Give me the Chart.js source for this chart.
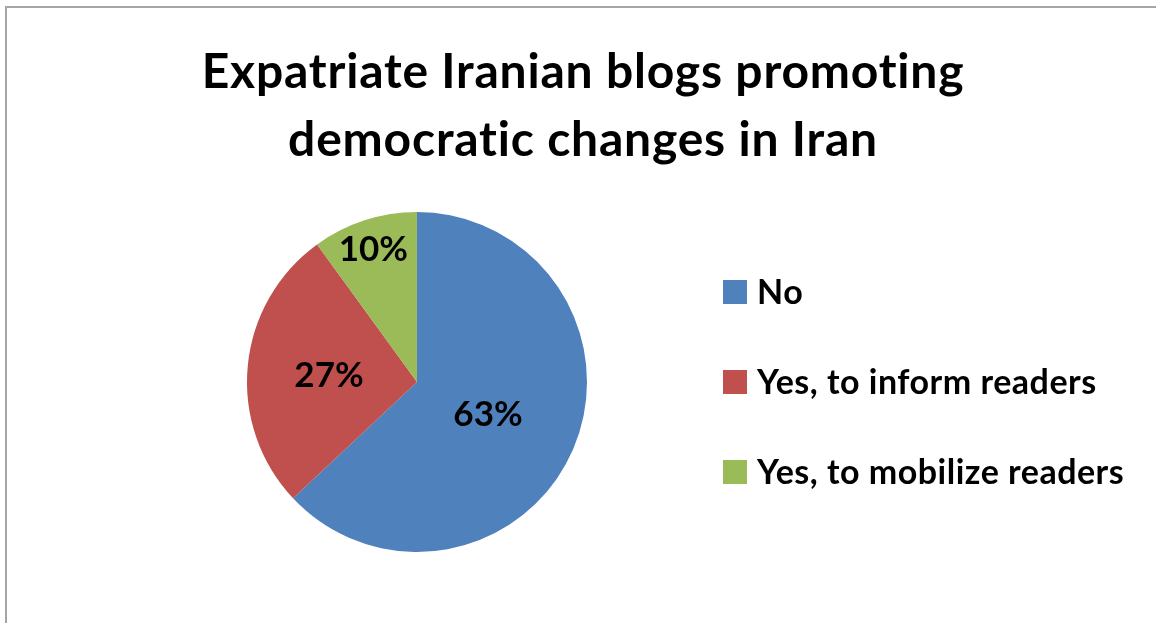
<!DOCTYPE html>
<html>
<head>
<meta charset="utf-8">
<script src="https://cdn.jsdelivr.net/npm/chart.js@4.4.0/dist/chart.umd.min.js"></script>
<style>
  body { margin: 0; background: #fff; }
  #wrap { width: 1156px; height: 623px; position: relative; }
</style>
</head>
<body>
<div id="wrap"><canvas id="myChart" width="1156" height="623"></canvas></div>
<script>
'use strict';
/*---------------- chart data ----------------*/
const titleLines = ['Expatriate Iranian blogs promoting', 'democratic changes in Iran'];
const categories = ['No', 'Yes, to inform readers', 'Yes, to mobilize readers'];
const shares = [63, 27, 10];
const sliceColors = ['#4F81BD', '#C0504D', '#9BBB59'];
/*--------------------------------------------*/
const fontFamily = 'Lato, "Open Sans", sans-serif';

// gray frame round the chart, like the office chart border
const framePlugin = {
  id: 'frame',
  beforeDraw(chart) {
    const ctx = chart.ctx;
    ctx.save();
    ctx.fillStyle = '#fff';
    ctx.fillRect(0, 0, chart.width, chart.height);
    ctx.strokeStyle = '#A5A5A5';
    ctx.lineWidth = 2;
    ctx.strokeRect(6, 7, chart.width + 20, chart.height + 20);
    ctx.restore();
  }
};

// two line title centred over the whole box
const titlePlugin = {
  id: 'bigTitle',
  afterDraw(chart, args, opts) {
    const ctx = chart.ctx;
    ctx.save();
    ctx.font = `bold ${opts.size}px ${fontFamily}`;
    ctx.letterSpacing = opts.spacing; // also stops the "ti" ligature
    ctx.fillStyle = '#000';
    ctx.textAlign = 'center';
    ctx.textBaseline = 'alphabetic';
    titleLines.forEach((line, i) => {
      ctx.fillText(line, opts.x, opts.y + i * opts.gap);
    });
    ctx.restore();
  }
};

// percent labels inside the slices
const sliceLabelPlugin = {
  id: 'sliceLabels',
  afterDatasetsDraw(chart, args, opts) {
    const ctx = chart.ctx;
    const meta = chart.getDatasetMeta(0);
    const total = shares.reduce((a, b) => a + b, 0);
    ctx.save();
    ctx.font = `bold ${opts.size}px ${fontFamily}`;
    ctx.fillStyle = '#000';
    ctx.textAlign = 'center';
    ctx.textBaseline = 'middle';
    meta.data.forEach((arc, i) => {
      const p = arc.getProps(['x', 'y', 'startAngle', 'endAngle', 'outerRadius'], true);
      const mid = (p.startAngle + p.endAngle) / 2;
      const r = p.outerRadius * opts.radius[i];
      const pct = Math.round(shares[i] / total * 100) + '%';
      ctx.fillText(pct, p.x + Math.cos(mid) * r, p.y + Math.sin(mid) * r + opts.shift);
    });
    ctx.restore();
  }
};

// legend on the right with wide spacing
const sideLegendPlugin = {
  id: 'sideLegend',
  afterDraw(chart, args, opts) {
    const ctx = chart.ctx;
    ctx.save();
    ctx.font = `bold ${opts.size}px ${fontFamily}`;
    ctx.letterSpacing = opts.spacing;
    ctx.textBaseline = 'alphabetic';
    ctx.textAlign = 'left';
    categories.forEach((name, i) => {
      const y = opts.y + i * opts.step;
      ctx.fillStyle = sliceColors[i];
      ctx.fillRect(opts.x, y - opts.box / 2, opts.box, opts.box);
      ctx.fillStyle = '#000';
      ctx.fillText(name, opts.x + 34, y + opts.shift);
    });
    ctx.restore();
  }
};

const ctx = document.getElementById('myChart').getContext('2d');
const chart = new Chart(ctx, {
  type: 'pie',
  data: {
    labels: categories,
    datasets: [{
      data: shares,
      backgroundColor: sliceColors,
      borderWidth: 0,
      hoverOffset: 0,
      offset: 0
    }]
  },
  options: {
    responsive: false,
    animation: false,
    devicePixelRatio: 1,
    layout: { padding: { left: 247, right: 569, top: 212, bottom: 71 } },
    plugins: {
      legend: { display: false },
      title: { display: false },
      tooltip: { enabled: false },
      bigTitle: { x: 583, y: 88, gap: 68, size: 48, spacing: '0.8px' },
      sliceLabels: { size: 35, radius: [0.455, 0.52, 0.83], shift: 2 },
      sideLegend: { x: 723, y: 292, step: 90, box: 24, size: 34, shift: 12, spacing: '0.5px' }
    }
  },
  plugins: [framePlugin, titlePlugin, sliceLabelPlugin, sideLegendPlugin]
});
</script>
</body>
</html>
